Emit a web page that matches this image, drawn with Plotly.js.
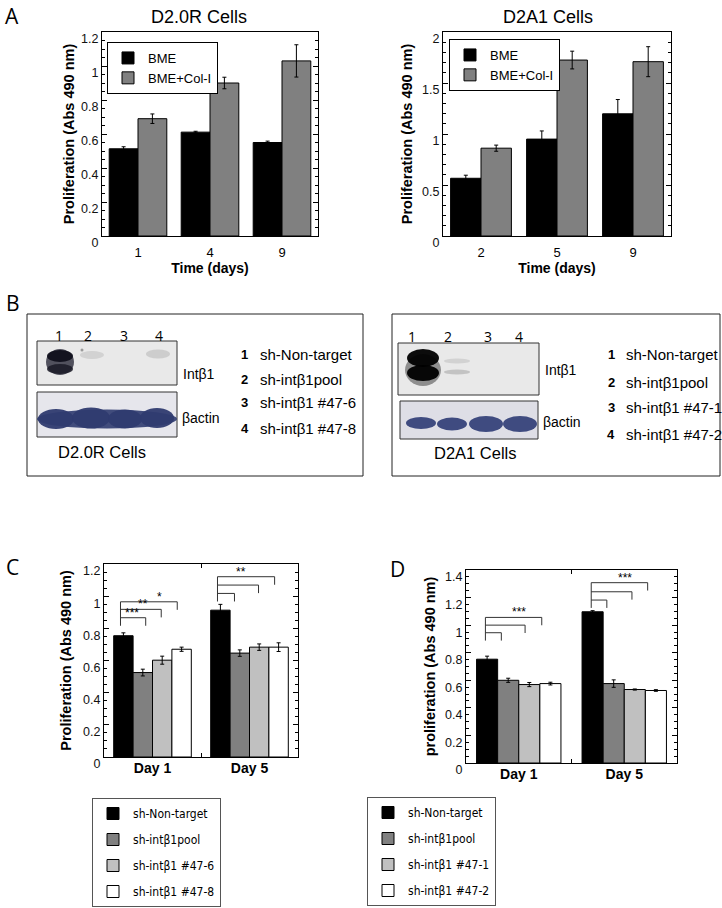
<!DOCTYPE html>
<html><head><meta charset="utf-8">
<script src="https://cdn.plot.ly/plotly-3.0.1.min.js"></script>
<style>body{margin:0;background:#fff}#chart{width:722px;height:908px}</style>
</head><body><div id="chart"></div>
<script>
// ---------- Panel A data ----------
const aSeriesNames = ["BME", "BME+Col-I"];
const aLeftDays = ["1", "4", "9"];
const aLeftBME = [0.513, 0.611, 0.550];
const aLeftBMEErr = [0.012, 0.005, 0.008];
const aLeftCol = [0.690, 0.900, 1.030];
const aLeftColErr = [0.028, 0.034, 0.095];
const aRightDays = ["2", "5", "9"];
const aRightBME = [0.566, 0.950, 1.198];
const aRightBMEErr = [0.03, 0.08, 0.14];
const aRightCol = [0.861, 1.725, 1.709];
const aRightColErr = [0.03, 0.087, 0.147];

// ---------- Panel C / D data ----------
const cdDays = ["Day 1", "Day 5"];
const cNames = ["sh-Non-target", "sh-intβ1pool", "sh-intβ1 #47-6", "sh-intβ1 #47-8"];
const dNames = ["sh-Non-target", "sh-intβ1pool", "sh-intβ1 #47-1", "sh-intβ1 #47-2"];
const cValues = [[0.754, 0.913], [0.525, 0.646], [0.602, 0.683], [0.670, 0.683]];
const cErrors = [[0.018, 0.036], [0.021, 0.020], [0.025, 0.020], [0.013, 0.027]];
const dValues = [[0.753, 1.097], [0.600, 0.576], [0.569, 0.533], [0.576, 0.526]];
const dErrors = [[0.022, 0.008], [0.015, 0.027], [0.015, 0.004], [0.010, 0.006]];

// significance brackets (category-index units / data units)
const cBrX0 = [-0.33, -0.33, -0.33, 0.67, 0.67, 0.67];
const cBrX1 = [-0.07, 0.09, 0.255, 0.845, 1.093, 1.259];
const cBrY = [0.866, 0.918, 0.965, 1.017, 1.069, 1.121];
const cStarText = ["***", "**", "*", "**"];
const cStarX = [-0.207, -0.097, 0.069, 0.914];
const cStarY = [0.866, 0.918, 0.965, 1.121];
const dBrX0 = [-0.316, -0.316, -0.316, 0.687, 0.687, 0.687];
const dBrX1 = [-0.165, 0.06, 0.218, 0.835, 1.073, 1.222];
const dBrY = [0.945, 1.0, 1.056, 1.182, 1.242, 1.308];
const dStarText = ["***", "***"];
const dStarX = [0.006, 1.009];
const dStarY = [1.056, 1.308];

// ---------- Panel B text ----------
const laneLabels = ["1", "2", "3", "4"];
const bBandLabels = ["Intβ1", "βactin"];

const FONT = 'Arial, "Liberation Sans", Helvetica, sans-serif';
const NARROW = '"Arial Narrow", "Liberation Sans Narrow", "DejaVu Sans Condensed", Arial, sans-serif';
const LANE = '"Open Sans", sans-serif';
const px = x => x / 722;
const py = y => 1 - y / 908;
const barColorsA = ["#000000", "#808080"];
const barColorsCD = ["#000000", "#808080", "#c0c0c0", "#ffffff"];

const traces = [];
function errBar(arr) { return {type: 'data', array: arr, visible: true, color: '#000', thickness: 1, width: 2}; }

[[aLeftBME, aLeftBMEErr], [aLeftCol, aLeftColErr]].forEach((s, i) => {
  traces.push({type: 'bar', x: aLeftDays, y: s[0], error_y: errBar(s[1]), name: aSeriesNames[i],
    marker: {color: barColorsA[i], line: {color: '#000', width: 1}}, xaxis: 'x', yaxis: 'y', legend: 'legend'});
});
[[aRightBME, aRightBMEErr], [aRightCol, aRightColErr]].forEach((s, i) => {
  traces.push({type: 'bar', x: aRightDays, y: s[0], error_y: errBar(s[1]), name: aSeriesNames[i],
    marker: {color: barColorsA[i], line: {color: '#000', width: 1}}, xaxis: 'x2', yaxis: 'y2', legend: 'legend2'});
});
cNames.forEach((n, i) => {
  traces.push({type: 'bar', x: cdDays, y: cValues[i], error_y: errBar(cErrors[i]), name: n, legendgroup: 'c' + i,
    marker: {color: barColorsCD[i], line: {color: '#000', width: 1}}, xaxis: 'x3', yaxis: 'y3', legend: 'legend3'});
});
dNames.forEach((n, i) => {
  traces.push({type: 'bar', x: cdDays, y: dValues[i], error_y: errBar(dErrors[i]), name: n, legendgroup: 'd' + i,
    marker: {color: barColorsCD[i], line: {color: '#000', width: 1}}, xaxis: 'x4', yaxis: 'y4', legend: 'legend4'});
});

function yax(d0, d1, range, dtick, minor, title, standoff) {
  return {domain: [d0, d1], range: range, dtick: dtick, ticks: 'inside', ticklen: 5, tickcolor: '#000',
    showline: true, linecolor: '#000', linewidth: 1, mirror: 'ticks', showgrid: false, zeroline: false,
    minor: {ticks: 'inside', ticklen: 3, dtick: minor, tickcolor: '#000', showgrid: false},
    tickfont: {family: FONT, size: 12.5, color: '#111'}, ticklabelshift: 7, fixedrange: true,
    title: {text: title, font: {family: FONT, size: 14.5, weight: 'bold', color: '#000'}, standoff: standoff}};
}
function xax(d0, d1, anchor, title, bold) {
  const o = {domain: [d0, d1], anchor: anchor, type: 'category', showline: true, linecolor: '#000', linewidth: 1,
    mirror: true, ticks: '', showgrid: false, zeroline: false, fixedrange: true,
    tickfont: {family: FONT, size: bold ? 14 : 13, weight: bold ? 'bold' : 'normal', color: '#000'}, ticklabelstandoff: 4};
  if (title) o.title = {text: title, font: {family: FONT, size: 14, weight: 'bold', color: '#000'}, standoff: 4};
  if (bold) { o.ticks = 'inside'; o.tickson = 'boundaries'; o.ticklen = 4; o.tickcolor = '#000'; o.mirror = 'ticks'; o.ticklabelstandoff = -2; }
  return o;
}

const shapes = [];
const annotations = [];
function paperText(text, x, y, size, opts) {
  annotations.push(Object.assign({xref: 'paper', yref: 'paper', x: px(x), y: py(y), text: text, showarrow: false,
    xanchor: 'center', yanchor: 'middle', font: {family: FONT, size: size, color: '#000'}}, opts || {}));
}
// Panel letters
const letterFont = {family: LANE, size: 21, color: '#000'};
paperText("A", 12, 16, 21, {font: letterFont});
paperText("B", 13, 303, 21, {font: letterFont});
paperText("C", 12, 567, 21, {font: letterFont});
paperText("D", 398, 569, 21, {font: letterFont});
// Subplot titles
paperText("D2.0R Cells", 199, 17, 18);
paperText("D2A1 Cells", 548, 17, 18);

// brackets
function brackets(X0, X1, Y, drop, xr, yr) {
  const groups = {};
  X0.forEach((x0, i) => {
    shapes.push({type: 'line', xref: xr, yref: yr, x0: x0, x1: X1[i], y0: Y[i], y1: Y[i], line: {color: '#333', width: 1}});
    shapes.push({type: 'line', xref: xr, yref: yr, x0: X1[i], x1: X1[i], y0: Y[i], y1: Y[i] - drop, line: {color: '#333', width: 1}});
    const k = String(x0);
    if (!groups[k]) groups[k] = {top: Y[i], low: Y[i] - drop};
    groups[k].top = Math.max(groups[k].top, Y[i]);
    groups[k].low = Math.min(groups[k].low, Y[i] - drop);
  });
  Object.keys(groups).forEach(k => {
    shapes.push({type: 'line', xref: xr, yref: yr, x0: +k, x1: +k, y0: groups[k].top, y1: groups[k].low, line: {color: '#333', width: 1}});
  });
}
brackets(cBrX0, cBrX1, cBrY, 0.05, 'x3', 'y3');
brackets(dBrX0, dBrX1, dBrY, 0.057, 'x4', 'y4');
cStarText.forEach((t, i) => annotations.push({xref: 'x3', yref: 'y3', x: cStarX[i], y: cStarY[i], text: t, showarrow: false,
  yanchor: 'bottom', yshift: -4, font: {family: FONT, size: 12, color: '#000'}}));
dStarText.forEach((t, i) => annotations.push({xref: 'x4', yref: 'y4', x: dStarX[i], y: dStarY[i], text: t, showarrow: false,
  yanchor: 'bottom', yshift: -4, font: {family: FONT, size: 12, color: '#000'}}));

// ---------- Panel B: boxes and blots ----------
function rect(x0, y0, x1, y1, fill, line) {
  shapes.push({type: 'rect', xref: 'paper', yref: 'paper', x0: px(x0), x1: px(x1), y0: py(y1), y1: py(y0),
    fillcolor: fill, line: line || {width: 0}, layer: 'above'});
}
function blob(cx, cy, rx, ry, color, op) {
  shapes.push({type: 'circle', xref: 'paper', yref: 'paper', x0: px(cx - rx), x1: px(cx + rx), y0: py(cy + ry), y1: py(cy - ry),
    fillcolor: color, opacity: op, line: {width: 0}, layer: 'above'});
}
rect(27, 314, 363, 476, 'rgba(0,0,0,0)', {color: '#222', width: 1});
rect(392, 314, 720, 476, 'rgba(0,0,0,0)', {color: '#222', width: 1});
// left blots
rect(37, 341, 177, 385, '#e9e9e9', {color: '#333', width: 1});
blob(60, 362, 14, 13, '#2a2a3a', 0.8);
blob(60, 356, 13, 6, '#0c0c18', 0.9);
blob(60, 369, 13, 5, '#1a1a26', 0.85);
blob(92, 355, 12, 4, '#bbb', 0.5);
blob(82, 350, 1.5, 1.5, '#777', 0.7);
blob(158, 354, 12, 4.5, '#bbb', 0.6);
rect(37, 392, 177, 437, '#e6e6ec', {color: '#333', width: 1});
blob(107, 419, 70, 9.5, '#2f3b70', 0.9);
blob(56, 419, 18, 10, '#2f3b70', 0.95);
blob(91, 418, 19, 10.5, '#2f3b70', 0.95);
blob(125, 419, 17, 9.5, '#2f3b70', 0.95);
blob(157, 418, 17, 10, '#2f3b70', 0.95);
// right blots
rect(398, 343, 539, 395, '#e9e9e9', {color: '#333', width: 1});
blob(423, 370, 18, 16, '#444', 0.55);
blob(423, 358, 16, 9, '#000', 0.95);
blob(423, 373, 16, 8, '#000', 0.95);
blob(457, 361, 13, 2.5, '#bbb', 0.5);
blob(457, 372, 13, 2.5, '#aaa', 0.6);
rect(400, 401, 538, 439, '#dedee6', {color: '#333', width: 1});
blob(421, 423, 15, 6, '#36427a', 0.95);
blob(452, 424, 15, 6.5, '#36427a', 0.95);
blob(486, 424, 17, 8, '#36427a', 0.95);
blob(520, 424, 17, 8, '#36427a', 0.95);

// lane numbers
const leftLaneX = [59, 88, 124, 159];
const rightLaneX = [412, 448, 488, 519];
laneLabels.forEach((l, i) => {
  paperText(l, leftLaneX[i], 335, 14, {font: {family: LANE, size: 14, color: '#000'}});
  paperText(l, rightLaneX[i], 336, 14, {font: {family: LANE, size: 14, color: '#000'}});
});
paperText(bBandLabels[0], 181, 374, 14, {xanchor: 'left'});
paperText(bBandLabels[1], 180, 418, 14, {xanchor: 'left'});
paperText(bBandLabels[0], 543, 370, 14, {xanchor: 'left'});
paperText(bBandLabels[1], 541, 422, 14, {xanchor: 'left'});
paperText("D2.0R Cells", 102, 452, 16.5);
paperText("D2A1 Cells", 475, 453, 16.5);
const leftListY = [354, 379, 403, 428];
const rightListY = [354, 382, 408, 434];
cNames.forEach((n, i) => {
  paperText("<b>" + laneLabels[i] + "</b>", 245, leftListY[i], 13);
  paperText(n, 258, leftListY[i], 15, {xanchor: 'left'});
});
dNames.forEach((n, i) => {
  paperText("<b>" + laneLabels[i] + "</b>", 611, rightListY[i], 13);
  paperText(n, 624, rightListY[i], 15, {xanchor: 'left'});
});

const legA = {bordercolor: '#000', borderwidth: 1, bgcolor: '#fff', xanchor: 'left', yanchor: 'top', xref: 'paper', yref: 'paper',
  font: {family: FONT, size: 13, color: '#000'}, itemwidth: 30, tracegroupgap: 0};
const legCD = {bordercolor: '#555', borderwidth: 1, bgcolor: '#fff', xanchor: 'left', yanchor: 'top', xref: 'paper', yref: 'paper',
  font: {family: NARROW, size: 12, color: '#000'}, itemwidth: 30, tracegroupgap: 7, traceorder: 'grouped'};

const layout = {
  width: 722, height: 908, margin: {l: 0, r: 0, t: 0, b: 0}, paper_bgcolor: '#fff', plot_bgcolor: '#fff',
  barmode: 'group', bargap: 0.2, bargroupgap: 0, showlegend: true,
  font: {family: FONT, color: '#000'},
  xaxis: xax(px(102), px(318), 'y', 'Time (days)', false),
  yaxis: yax(py(236), py(32), [0, 1.2], 0.2, 0.05, 'Proliferation (Abs 490 nm)', 3),
  xaxis2: xax(px(443), px(671), 'y2', 'Time (days)', false),
  yaxis2: Object.assign(yax(py(236), py(32), [0, 2], 0.5, 0.1, 'Proliferation (Abs 490 nm)', 6), {anchor: 'x2'}),
  xaxis3: xax(px(104), px(298), 'y3', null, true),
  yaxis3: Object.assign(yax(py(757), py(564), [0, 1.2], 0.2, 0.05, 'Proliferation (Abs 490 nm)', 8), {anchor: 'x3'}),
  xaxis4: xax(px(466), px(677), 'y4', null, true),
  yaxis4: Object.assign(yax(py(763), py(570), [0, 1.4], 0.2, 0.05, 'proliferation (Abs 490 nm)', 6), {anchor: 'x4'}),
  legend: Object.assign({}, legA, {x: px(107), y: py(42)}),
  legend2: Object.assign({}, legA, {x: px(449), y: py(39)}),
  legend3: Object.assign({}, legCD, {x: px(92), y: py(798)}),
  legend4: Object.assign({}, legCD, {x: px(367), y: py(797)}),
  shapes: shapes, annotations: annotations
};
layout.yaxis.anchor = 'x';

Plotly.newPlot('chart', traces, layout, {staticPlot: true, displayModeBar: false});
</script></body></html>
